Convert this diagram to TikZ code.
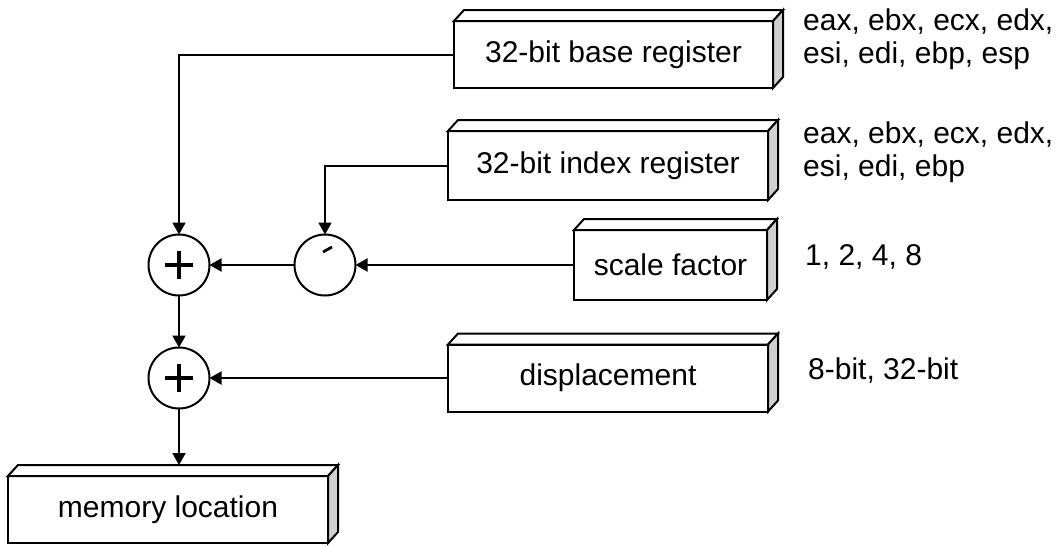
\documentclass[tikz,border=0pt]{standalone}
\usepackage{fontspec}
\setmainfont{Liberation Sans}
\usetikzlibrary{arrows.meta}
\definecolor{sidegray}{HTML}{D0D0D0}
\tikzset{
  boxline/.style={line width=2pt, draw=black, line join=miter},
  regbox/.style={boxline, fill=white, rectangle, inner sep=0pt, outer sep=0pt,
    font=\fontsize{30}{33}\selectfont},
  conn/.style={line width=2pt, -{Triangle[length=12pt,width=13pt]}},
  sumnode/.style={circle, draw, line width=2pt, minimum size=61pt, inner sep=0pt, outer sep=0pt},
  note/.style={anchor=base west, inner sep=0pt, font=\fontsize{30}{33}\selectfont},
}
\newcommand{\depthbox}[1]{%
  \filldraw[boxline, fill=white] (#1.north west) -- ++(10pt,11pt) -- ([shift={(10pt,11pt)}]#1.north east) -- (#1.north east) -- cycle;
  \filldraw[boxline, fill=sidegray] (#1.north east) -- ++(10pt,11pt) -- ([shift={(10pt,11pt)}]#1.south east) -- (#1.south east) -- cycle;}
\newcommand{\plussign}[1]{%
  \draw[line width=4.8pt] ([xshift=-14pt]#1.center) -- ([xshift=14pt]#1.center);
  \draw[line width=4.8pt] ([yshift=-14pt]#1.center) -- ([yshift=14pt]#1.center);}
\begin{document}
\begin{tikzpicture}[x=1pt, y=-1pt]
\useasboundingbox (0,0) rectangle (1059,546);
% boxes
\node[regbox, minimum width=319pt, minimum height=67pt] (base) at (613.5,54.5) {32-bit base register};
\depthbox{base}
\node[regbox, minimum width=320pt, minimum height=69pt] (index) at (608,165.5) {32-bit index register};
\depthbox{index}
\node[regbox, minimum width=193pt, minimum height=70pt] (scale) at (670.5,265) {scale factor};
\depthbox{scale}
\node[regbox, minimum width=320pt, minimum height=67pt] (disp) at (608,378) {displacement};
\depthbox{disp}
\node[regbox, minimum width=320pt, minimum height=67pt] (mem) at (168,509.5) {memory location};
\depthbox{mem}
\coordinate (memtop) at ([yshift=11pt]mem.north);
% circles
\node[sumnode] (p1) at (179,265) {};
\plussign{p1}
\node[sumnode] (dial) at (325,265) {};
\draw[line width=2.8pt] ([shift={(-2pt,13pt)}]dial.center) -- ([shift={(7pt,18pt)}]dial.center);
\node[sumnode] (p2) at (179,378) {};
\plussign{p2}
% connectors
\draw[conn] (base.west) -| (p1.north);
\draw[conn] (index.west) -| (dial.north);
\draw[conn] (scale.west) -- (dial.east);
\draw[conn] (dial.west) -- (p1.east);
\draw[conn] (p1.south) -- (p2.north);
\draw[conn] (disp.west) -- (p2.east);
\draw[conn] (p2.south) -- (p2 |- memtop);
% notes
\node[note] (n1a) at (803,30) {eax, ebx, ecx, edx,};
\node[note] (n1b) at (803,63) {esi, edi, ebp, esp};
\node[note] (n2a) at (803,143) {eax, ebx, ecx, edx,};
\node[note] (n2b) at (803,176) {esi, edi, ebp};
\node[note] (n3) at (805,265) {1, 2, 4, 8};
\node[note] (n4) at (808,379) {8-bit, 32-bit};
\end{tikzpicture}
\end{document}
